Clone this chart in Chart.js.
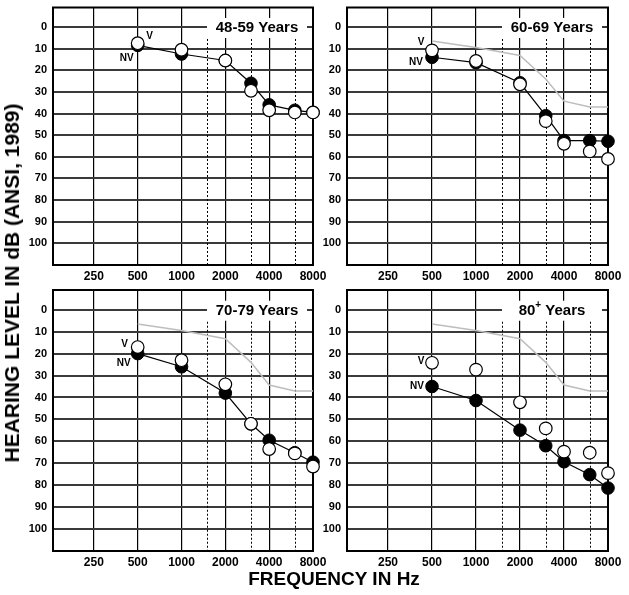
<!DOCTYPE html>
<html>
<head>
<meta charset="utf-8">
<script src="https://cdn.jsdelivr.net/npm/chart.js@4.4.1/dist/chart.umd.min.js"></script>
<style>
    body { margin: 0; background: #fff; width: 629px; height: 595px; overflow: hidden; position: relative; font-family: Arial, 'Liberation Sans', Helvetica, sans-serif; }
    canvas { position: absolute; left: 0; top: 0; }
    .axis-title { position: absolute; font-weight: bold; font-size: 19px; white-space: nowrap; color: #000; transform: translate(-50%, -50%); }
    #ytitle { left: 12px; top: 283px; font-size: 21px; transform: translate(-50%, -50%) rotate(-90deg); }
    #xtitle { left: 334px; top: 579px; }
</style>
</head>
<body>
<canvas id="p1" width="629" height="595"></canvas>
<canvas id="p2" width="629" height="595"></canvas>
<canvas id="p3" width="629" height="595"></canvas>
<canvas id="p4" width="629" height="595"></canvas>
<div class="axis-title" id="ytitle">HEARING LEVEL IN dB (ANSI, 1989)</div>
<div class="axis-title" id="xtitle">FREQUENCY IN Hz</div>
<script>
// frequencies (Hz) where thresholds were measured
const freqs = [500, 1000, 2000, 3000, 4000, 6000, 8000]
const freqTicks = [250, 500, 1000, 2000, 4000, 8000]
const dottedFreqs = [1500, 3000, 6000]
const levelTicks = [0, 10, 20, 30, 40, 50, 60, 70, 80, 90, 100]

const groups = ['48-59 Years', '60-69 Years', '70-79 Years', '80+ Years']

// hearing level (dB) - V = open circles, NV = filled circles
const v4859 = [7.5, 10.5, 15.5, 29.5, 38.5, 39.5, 39.5]
const nv4859 = [8.5, 12.5, 15.5, 26, 36, 38.5, 39.5]
const v6069 = [10.8, 15.7, 26.5, 43.5, 54, 57.5, 61]
const nv6069 = [14, 16.5, 25.8, 41, 52.5, 52.5, 52.8]
const v7079 = [17, 23, 34, 52, 63.5, 65.5, 71.5]
const nv7079 = [20, 26, 38, 52, 59.5, 65.2, 69.5]
const v80 = [24.2, 27.3, 42.2, 54.1, 64.7, 65.2, 74.5]
const nv80 = [35, 41.4, 54.9, 62, 69.3, 75.2, 81.3]

// light grey reference curve shown in the older groups
const reference = [6.5, 9.5, 13.2, 24, 34.3, 37, 37]

const FONT = "Arial, 'Liberation Sans', Helvetica, sans-serif"

const toPoints = (arr) => freqs.map((f, i) => ({ x: f, y: arr[i] }))

const panelDecor = {
    id: 'panelDecor',
    beforeDatasetsDraw(chart, args, opts) {
        const { ctx, chartArea: a, scales: { x, y } } = chart
        ctx.save()

        // dotted half-octave lines
        ctx.strokeStyle = '#000'
        ctx.lineWidth = 1
        ctx.setLineDash([2, 2])
        dottedFreqs.forEach((f) => {
            const px = Math.round(x.getPixelForValue(f)) + 0.5
            ctx.beginPath()
            ctx.moveTo(px, y.getPixelForValue(0))
            ctx.lineTo(px, a.bottom)
            ctx.stroke()
        })
        ctx.setLineDash([])

        // frame
        ctx.lineWidth = 2
        ctx.strokeRect(a.left, a.top, a.right - a.left, a.bottom - a.top)

        // title box
        const boxW = 100
        const boxH = 20
        const boxR = a.right - 6
        const cy = y.getPixelForValue(0) + 1
        ctx.fillStyle = '#fff'
        ctx.fillRect(boxR - boxW, cy - boxH / 2, boxW, boxH)

        const cx = boxR - boxW / 2
        const parts = opts.title.split('+')
        ctx.fillStyle = '#000'
        ctx.textBaseline = 'middle'
        ctx.textAlign = 'left'
        const big = `bold 15px ${FONT}`
        const small = `bold 10px ${FONT}`
        if (parts.length === 2) {
            ctx.font = big
            const w1 = ctx.measureText(parts[0]).width
            const w3 = ctx.measureText(parts[1]).width
            ctx.font = small
            const w2 = ctx.measureText('+').width
            let sx = cx - (w1 + w2 + w3) / 2
            ctx.font = big
            ctx.fillText(parts[0], sx, cy)
            ctx.font = small
            ctx.fillText('+', sx + w1, cy - 5)
            ctx.font = big
            ctx.fillText(parts[1], sx + w1 + w2, cy)
        } else {
            ctx.font = big
            ctx.textAlign = 'center'
            ctx.fillText(opts.title, cx, cy)
        }
        ctx.restore()
    },
    afterDatasetsDraw(chart, args, opts) {
        const { ctx, scales: { x, y } } = chart
        ctx.save()
        ctx.fillStyle = '#000'
        ctx.font = `bold 10px ${FONT}`
        ctx.textAlign = 'center'
        ctx.textBaseline = 'middle'
        const px = x.getPixelForValue(freqs[0])
        ctx.fillText('V', px + opts.vLabel.dx, y.getPixelForValue(opts.vFirst) + opts.vLabel.dy)
        ctx.fillText('NV', px + opts.nvLabel.dx, y.getPixelForValue(opts.nvFirst) + opts.nvLabel.dy)
        ctx.restore()
    },
}

const makePanel = (id, area, title, vData, nvData, showRef, vLabel, nvLabel) => {
    const datasets = [
        {
            label: 'V',
            data: toPoints(vData),
            showLine: false,
            pointRadius: 6.3,
            pointBackgroundColor: '#fff',
            pointBorderColor: '#000',
            pointBorderWidth: 1.2,
            clip: false,
        },
        {
            label: 'NV',
            data: toPoints(nvData),
            showLine: true,
            borderColor: '#000',
            borderWidth: 1.2,
            pointRadius: 6.3,
            pointBackgroundColor: '#000',
            pointBorderColor: '#000',
            pointBorderWidth: 1,
            clip: false,
        },
    ]
    if (showRef) {
        datasets.push({
            label: 'reference',
            data: toPoints(reference),
            showLine: true,
            borderColor: '#bdbdbd',
            borderWidth: 1.5,
            pointRadius: 0,
            clip: false,
        })
    }

    return new Chart(document.getElementById(id), {
        type: 'scatter',
        data: { datasets },
        options: {
            responsive: false,
            animation: false,
            events: [],
            layout: {
                padding: { left: area.left - 30, top: area.top, right: 629 - area.right, bottom: 595 - area.bottom - 20 },
            },
            plugins: {
                legend: { display: false },
                tooltip: { enabled: false },
                panelDecor: { title, vLabel, nvLabel, vFirst: vData[0], nvFirst: nvData[0] },
            },
            scales: {
                x: {
                    type: 'logarithmic',
                    position: 'bottom',
                    min: 131,
                    max: 8000,
                    afterBuildTicks: (s) => { s.ticks = freqTicks.map((v) => ({ value: v })) },
                    afterFit: (s) => { s.height = 20; s.paddingLeft = 0; s.paddingRight = 0 },
                    ticks: {
                        callback: (v) => String(v),
                        color: '#000',
                        font: { family: FONT, size: 12, weight: 'bold' },
                        padding: 4,
                        maxRotation: 0,
                        autoSkip: false,
                    },
                    grid: { color: '#000', lineWidth: 1.2, drawTicks: false },
                    border: { display: true, color: '#000', width: 2 },
                },
                y: {
                    type: 'linear',
                    reverse: true,
                    min: -9,
                    max: 110,
                    afterBuildTicks: (s) => { s.ticks = levelTicks.map((v) => ({ value: v })) },
                    afterFit: (s) => { s.width = 30; s.paddingTop = 0; s.paddingBottom = 0 },
                    ticks: {
                        color: '#000',
                        font: { family: FONT, size: 11, weight: 'bold' },
                        padding: 6,
                    },
                    grid: { color: '#3a3a3a', lineWidth: 2, drawTicks: false },
                    border: { display: true, color: '#000', width: 2 },
                },
            },
        },
        plugins: [panelDecor],
    })
}

makePanel('p1', { left: 53, top: 4, right: 313, bottom: 265 }, groups[0], v4859, nv4859, false, { dx: 12, dy: -7 }, { dx: -11, dy: 13 })
makePanel('p2', { left: 347, top: 4, right: 608, bottom: 265 }, groups[1], v6069, nv6069, true, { dx: -11, dy: -8 }, { dx: -16, dy: 5 })
makePanel('p3', { left: 53, top: 290, right: 313, bottom: 551 }, groups[2], v7079, nv7079, true, { dx: -13, dy: -3 }, { dx: -14, dy: 10 })
makePanel('p4', { left: 347, top: 290, right: 608, bottom: 551 }, groups[3], v80, nv80, true, { dx: -11, dy: -2 }, { dx: -15, dy: 0 })
</script>
</body>
</html>
